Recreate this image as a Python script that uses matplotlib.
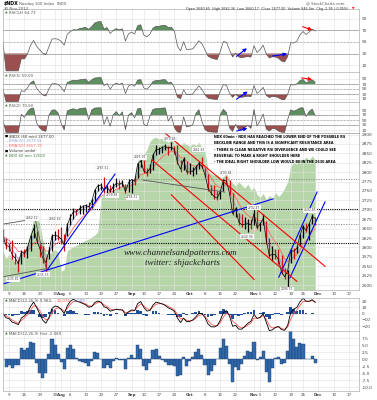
import numpy as np
import pandas as pd
import matplotlib
matplotlib.use('Agg')
import matplotlib.pyplot as plt

plt.rcParams['font.family'] = 'DejaVu Sans'

# ------------------------------------------------------------------
# data (one value per trading day Jul 5 - Nov 30)
holidays = ['2012-09-03', '2012-10-29', '2012-10-30', '2012-11-22']
days = pd.bdate_range('2012-07-05', '2012-12-21')
days = days[~days.isin(pd.to_datetime(holidays))]

price_close = [2630, 2605, 2603, 2580, 2572, 2556, 2588, 2584, 2598, 2628,
               2650, 2620, 2598, 2572, 2560, 2590, 2630, 2632, 2630, 2622,
               2606, 2660, 2680, 2695, 2694, 2703, 2708, 2712, 2708, 2723,
               2752, 2764, 2766, 2752, 2760, 2748, 2762, 2770, 2768, 2772,
               2748, 2772, 2780, 2776, 2822, 2830, 2803, 2798, 2810, 2845,
               2860, 2860, 2866, 2868, 2864, 2866, 2860, 2826, 2808, 2834,
               2800, 2801, 2802, 2812, 2824, 2815, 2793, 2757, 2744, 2735,
               2731, 2749, 2779, 2776, 2744, 2690, 2703, 2668, 2660, 2662,
               2663, 2660, 2690, 2652, 2662, 2677, 2620, 2578, 2582, 2580,
               2568, 2535, 2522, 2537, 2592, 2590, 2598, 2632, 2656, 2645,
               2662, 2683, 2677]
price_high = [2650, 2625, 2612, 2620, 2585, 2570, 2592, 2595, 2605, 2632,
              2662, 2645, 2610, 2605, 2575, 2600, 2635, 2645, 2648, 2655,
              2635, 2665, 2690, 2705, 2702, 2712, 2712, 2715, 2722, 2728,
              2755, 2768, 2770, 2787, 2765, 2765, 2770, 2785, 2778, 2780,
              2768, 2782, 2782, 2790, 2825, 2835, 2832, 2812, 2822, 2850,
              2872, 2868, 2870, 2876, 2870, 2879, 2870, 2872, 2832, 2840,
              2830, 2825, 2815, 2818, 2830, 2841, 2812, 2795, 2765, 2765,
              2750, 2752, 2782, 2790, 2778, 2745, 2708, 2692, 2690, 2680,
              2675, 2675, 2702, 2698, 2668, 2690, 2670, 2625, 2605, 2595,
              2595, 2580, 2545, 2540, 2595, 2598, 2605, 2635, 2660, 2665,
              2665, 2690, 2682]
price_low = [2615, 2595, 2590, 2570, 2555, 2536, 2555, 2575, 2572, 2590,
             2625, 2615, 2575, 2560, 2536, 2570, 2590, 2620, 2620, 2610,
             2590, 2630, 2660, 2675, 2685, 2690, 2690, 2695, 2702, 2705,
             2720, 2750, 2752, 2745, 2735, 2742, 2740, 2760, 2755, 2762,
             2745, 2748, 2744, 2765, 2785, 2815, 2798, 2790, 2798, 2805,
             2845, 2848, 2850, 2858, 2845, 2860, 2848, 2822, 2800, 2805,
             2795, 2795, 2790, 2795, 2808, 2810, 2788, 2750, 2738, 2730,
             2725, 2728, 2750, 2765, 2740, 2685, 2680, 2660, 2655, 2650,
             2640, 2650, 2660, 2650, 2645, 2660, 2610, 2575, 2565, 2570,
             2555, 2530, 2515, 2494, 2560, 2570, 2585, 2605, 2625, 2640,
             2620, 2662, 2660]
# green area overlay ("NDX 60 min")
overlay = [3800, 3000, 3500, 3100, 2600, 2900, 3400, 3900, 4600, 5500,
           6800, 7200, 6400, 4800, 3600, 3300, 3700, 3900, 3600, 1800,
           2000, 3800, 4000, 4200, 4300, 4500, 4600, 4800, 4900, 5100,
           5300, 5600, 8800, 9200, 9400, 9300, 9600, 9800, 9900, 10100,
           10200, 10000, 10300, 10800, 12400, 12800, 13000, 13500, 14300, 14600,
           14700, 14500, 14600, 14400, 14200, 14500, 14100, 14300, 13900, 14200,
           14000, 13800, 14100, 13900, 14200, 13700, 13300, 11500, 11200, 11000,
           11100, 10800, 10900, 11200, 10600, 10300, 10000, 10400, 10100, 9800,
           10200, 9600, 9900, 9200, 8900, 9300, 8700, 9100, 8800, 9400,
           9000, 9300, 9800, 10400, 11900, 12300, 12100, 12600, 12400, 12800,
           12500, 12900, 12509]

# drawn trendlines: (x0, price0, x1, price1, colour)   x = trading-day number
trend_lines = [(0.0, 2503, 88.2, 2729, 'blue'),
               (14.4, 2540, 36.6, 2795, 'blue'),
               (90.1, 2521, 102.6, 2747, 'blue'),
               (93.7, 2519, 105.2, 2721, 'blue'),
               (52.9, 2904, 105.2, 2550, 'red'),
               (48.7, 2832, 96.0, 2510, 'red'),
               (55.0, 2740, 82.0, 2515, 'red'),
               (45.7, 2779, 72.5, 2747, '#555555'),
               (0.0, 2662, 10.5, 2676, '#555555'),
               (10.5, 2676, 14.0, 2548, '#555555'),
               (0.0, 2522, 15.0, 2545, '#555555')]
# horizontal levels: (price, colour, heavy)
levels = [(2782, '#888888', False), (2702, 'black', True),
          (2662, '#888888', False), (2612, 'black', True)]
# price labels on the chart
price_labels = [(3.3, 2516, '2535.81'), (9.5, 2678, '2662.12'), (17.0, 2675, '2662.62'),
                (13.1, 2527, '2535.55'), (32.7, 2812, '2787.51'), (35.6, 2738, '2739.84'),
                (42.2, 2733, '2744.21'), (44.8, 2840, '2825.91'), (54.6, 2888, '2879.28'),
                (64.0, 2860, '2841.65'), (72.8, 2798, '2790.84'), (82.0, 2706, '2702.47'),
                (79.7, 2628, '2640.96'), (92.8, 2489, '2494.31'), (100.3, 2699, '2692.85')]
# divergence arrows: (x0, v0, x1, v1, colour)
rsi14_arrows = [(75.5, 22, 80.4, 42, 'blue'), (87.2, 25, 93.7, 30, 'blue'),
                (97.0, 78, 101.9, 69, 'red')]
rsi5_arrows = [(75.5, 3, 80.7, 46, 'blue'), (96.7, 96, 101.9, 86, 'red')]
rsi2_arrows = [(75.5, 3, 80.7, 20, 'blue')]

note_lines = ['NDX 60min - NDX HAS REACHED THE LOWER END OF THE POSSIBLE RS',
              'NECKLINE RANGE AND THIS IS A SIGNIFICANT RESISTANCE AREA',
              '- THERE IS CLEAR NEGATIVE RSI DIVERGENCE AND WE COULD SEE',
              'REVERSAL TO MAKE A RIGHT SHOULDER HERE',
              '- THE IDEAL RIGHT SHOULDER LOW WOULD BE IN THE 2630 AREA']

# ------------------------------------------------------------------
close = pd.Series(price_close, dtype=float)
x = np.arange(len(close))


def rsi(c, alpha):
    d = c.diff()
    up = d.clip(lower=0).ewm(alpha=alpha, adjust=False).mean()
    dn = (-d.clip(upper=0)).ewm(alpha=alpha, adjust=False).mean()
    return (100 - 100 / (1 + up / dn)).fillna(50)


# 60 min indicator periods expressed in trading days
rsi14 = rsi(close, 0.14)
rsi5 = rsi(close, 0.28)
rsi2 = rsi(close, 0.55)
ema20 = close.ewm(span=2.9, adjust=False).mean()
ema50 = close.ewm(span=7.1, adjust=False).mean()
macd = close.ewm(span=2.6, adjust=False).mean() - close.ewm(span=6, adjust=False).mean()
signal = macd.ewm(span=2.6, adjust=False).mean()
hist = macd - signal

# ------------------------------------------------------------------
W_PX, H_PX = 377, 400
fig = plt.figure(figsize=(3.77, 4.0), dpi=100)
L, R = 3, 359
XMIN, XMAX = 0.0, 116.3

# date ticks: Mondays and first trading day of each month
tick_pos, tick_lab = [], []
for i, d in enumerate(days):
    if i > 0 and d.month != days[i - 1].month:
        tick_pos.append(i); tick_lab.append(d.strftime('%b'))
    elif d.weekday() == 0:
        tick_pos.append(i); tick_lab.append(str(d.day))


def panel(top, bot):
    ax = fig.add_axes([L / W_PX, 1 - bot / H_PX, (R - L) / W_PX, (bot - top) / H_PX])
    ax.set_xlim(XMIN, XMAX)
    ax.tick_params(axis='both', length=0, labelsize=3.2, pad=1.5, colors='#444444')
    ax.set_xticks(tick_pos)
    ax.set_xticklabels([])
    ax.grid(True, color='#e2e2e2', lw=0.4)
    ax.set_axisbelow(True)
    for s in ax.spines.values():
        s.set_color('#b0b0b0')
        s.set_linewidth(0.5)
    return ax


def right_ticks(ax):
    ax.yaxis.tick_right()
    ax.tick_params(axis='y', length=0, labelsize=3.1, pad=2, colors='#444444',
                   left=False, labelleft=False, right=False, labelright=True)


def date_labels(ax):
    ax.set_xticklabels(tick_lab)
    ax.tick_params(axis='x', labelsize=2.9, pad=1.2)
    for t in ax.get_xticklabels():
        if not t.get_text().isdigit():
            t.set_fontweight('bold')


def ftext(px, py, s, **kw):
    kw.setdefault('fontsize', 3.0)
    kw.setdefault('va', 'center')
    fig.text(px / W_PX, 1 - py / H_PX, s, **kw)


def rsi_panel(top, bot, vals, ylim, arrows, title):
    ax = panel(top, bot)
    ax.set_ylim(*ylim)
    ax.set_yticks([10, 30, 50, 70, 90])
    right_ticks(ax)
    ax.axhline(70, color='#999999', lw=0.5)
    ax.axhline(30, color='#999999', lw=0.5)
    ax.axhline(50, color='#999999', lw=0.4, ls=(0, (4, 2)))
    ax.fill_between(x, 70, vals, where=vals >= 70, interpolate=True, color='#5e8f5e', lw=0)
    ax.fill_between(x, 30, vals, where=vals <= 30, interpolate=True, color='#9b4f4f', lw=0)
    ax.plot(x, vals, color='#555555', lw=0.5)
    for x0, v0, x1, v1, c in arrows:
        ax.annotate('', xy=(x1, v1), xytext=(x0, v0),
                    arrowprops=dict(arrowstyle='-|>', color=c, lw=0.8, mutation_scale=5))
    ftext(5, top + 4, '\u25b2', color='#3a7a3a', fontsize=2.5)
    ftext(9, top + 4, title, color='#555555', fontsize=2.8)
    return ax


# header
ftext(4, 4, '$NDX', fontweight='bold', fontsize=3.4)
ftext(19, 4, 'Nasdaq 100 Index  INDX', color='#555555', fontsize=2.8)
ftext(4, 9, '30-Nov-2012', color='#555555', fontsize=2.8)
ftext(345, 3, '@ StockCharts.com', color='#555555', ha='right', fontsize=2.8)
ftext(186, 9, 'Open 2680.65  High 2682.36  Low 2660.17  Close 2677.00  Volume 846.0m  '
      'Chg -2.95 (-0.05%)', color='#333333', fontsize=2.45)
ftext(352, 9, '\u25bc', color='red', fontsize=2.3)

rsi_panel(9, 72, rsi14, (-2, 107), rsi14_arrows, 'RSI(14) 64.73')
rsi_panel(72, 102, rsi5, (-2, 118), rsi5_arrows, 'RSI(5) 59.09')
rsi_panel(102, 133, rsi2, (-2, 122), rsi2_arrows, 'RSI(2) 70.60')

# price panel
ax = panel(133, 290)
ax2 = ax.twinx()
ax2.set_xlim(XMIN, XMAX)
ax2.fill_between(x, 0, overlay, color='#b6d6aa', lw=0)
ax2.set_ylim(0, 15100)
ax2.set_yticks([])
for s in ax2.spines.values():
    s.set_visible(False)
ax.set_zorder(ax2.get_zorder() + 1)
ax.patch.set_visible(False)
ax.set_ylim(2487, 2904)
ax.set_yticks(np.arange(2500, 2901, 25))
right_ticks(ax)

for lvl, c, heavy in levels:
    ax.axhline(lvl, color=c, lw=0.8 if heavy else 0.6, ls=(0, (1, 1)) if heavy else (0, (1.5, 1.5)))

cols = ['black'] + ['black' if price_close[i] >= price_close[i - 1] else '#d01010'
                    for i in range(1, len(price_close))]
ax.plot(x, ema50, color='#ff6666', lw=0.6)
ax.plot(x, ema20, color='#8da3d6', lw=0.6)
ax.vlines(x, price_low, price_high, colors=cols, lw=0.9)
ax.plot(x, close, color='black', lw=0.5)

for x0, p0, x1, p1, c in trend_lines:
    ax.plot([x0, x1], [p0, p1], color=c, lw=0.8 if c in ('blue', 'red') else 0.6)

for xi, p, s in price_labels:
    ax.text(xi, p, s, fontsize=2.2, color='#444444', ha='center', va='center',
            bbox=dict(boxstyle='square,pad=0.15', fc='white', ec='#cccccc', lw=0.2))

for k, line in enumerate(note_lines):
    ftext(214, 137 + k * 6.3, line, fontweight='bold', fontsize=2.45, color='black')

ftext(181, 253, 'www.channelsandpatterns.com', family='Liberation Serif', style='italic',
      fontsize=6.6, color='#222222', ha='center')
ftext(182, 263, 'twitter: shjackcharts', family='Liberation Serif', style='italic',
      fontsize=6.6, color='#222222', ha='center')

# legend
legend_rows = [('\u25a0', 'black', '$NDX (60 min) 2677.00'),
               ('\u2014', '#8da3d6', 'EMA(20) 2673.18'),
               ('\u2014', '#ff6666', 'EMA(50) 2657.19'),
               ('\u25a0', 'black', 'Volume undef'),
               ('\u25b2', '#3a7a3a', 'NDX 60 min 12509')]
for k, (sym, c, lab) in enumerate(legend_rows):
    ftext(5, 136 + k * 5, sym, color=c, fontsize=2.4)
    ftext(9, 136 + k * 5, lab, color=c if c != 'black' else '#333333', fontsize=2.7)
date_labels(ax)

# MACD panel
axm = panel(298, 331)
axm.set_ylim(-28, 25)
axm.set_yticks([-20, -10, 0, 10, 20])
right_ticks(axm)
axm.bar(x, hist, width=0.9, color='#1f4f9a', lw=0)
axm.plot(x, signal, color='#ff5555', lw=0.6)
axm.plot(x, macd, color='black', lw=0.6)
ftext(5, 301, '\u25b2', color='#3a7a3a', fontsize=2.5)
ftext(9, 301, 'MACD(12,26,9) 9.984,', color='#555555', fontsize=2.8)
ftext(57, 301, '12.074,', color='#ff4444', fontsize=2.8)
ftext(73, 301, '-2.089', color='#7a8ad0', fontsize=2.8)

# MACD histogram panel
axh = panel(331, 391)
axh.set_ylim(-11.4, 10)
axh.set_yticks(np.arange(-10, 7.6, 2.5))
axh.set_yticklabels(['%.1f' % v for v in np.arange(-10, 7.6, 2.5)])
right_ticks(axh)
axh.bar(x, hist, width=1.0, color='#3068aa', edgecolor='#1c3f70', lw=0.3)
ftext(5, 334, '\u25b2', color='#3a7a3a', fontsize=2.5)
ftext(9, 334, 'MACD(12,26,9) Hist -2.089', color='#555555', fontsize=2.8)
date_labels(axh)

fig.savefig('out.png', dpi=100)
